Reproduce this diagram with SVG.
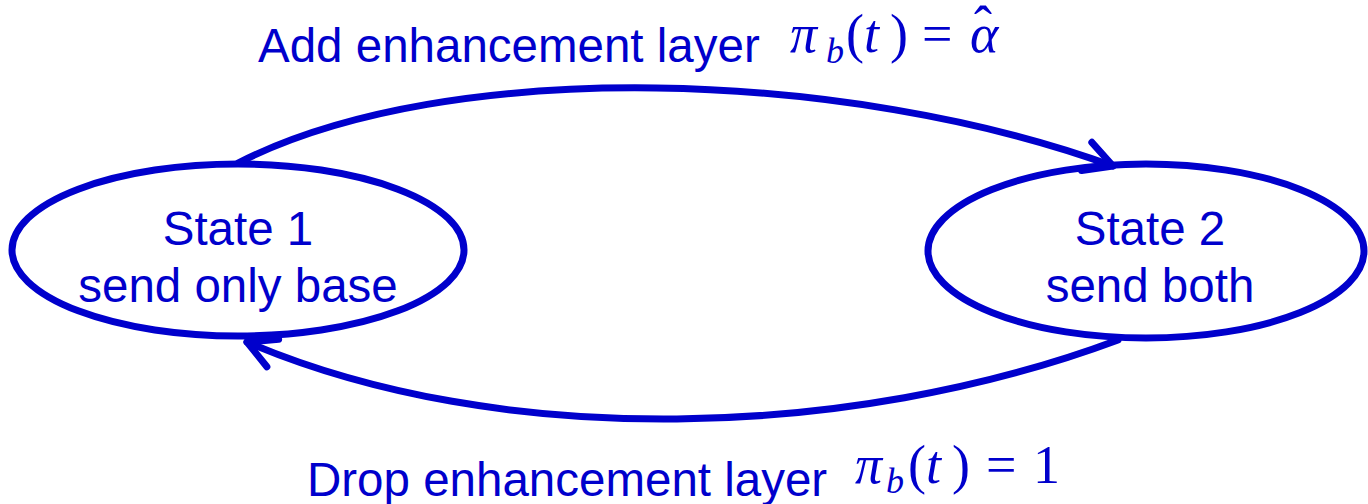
<svg xmlns="http://www.w3.org/2000/svg" width="1368" height="504" viewBox="0 0 1368 504">
<defs>
<style>
.node{fill:none;stroke:#0000CC;stroke-width:7}
.conn{fill:none;stroke:#0000CC;stroke-width:7;stroke-linecap:round}
.lbl{font-family:"Liberation Sans",Arial,sans-serif;font-size:47.5px;fill:#0000CC}
.math{font-family:"Liberation Serif","Times New Roman",serif;font-size:54px;fill:#0000CC}
.it{font-style:italic}
.sub{font-style:italic;font-size:36px}
</style>
<marker id="arr" markerUnits="userSpaceOnUse" markerWidth="60" markerHeight="60" refX="0" refY="0" viewBox="-40 -30 50 60" orient="auto" overflow="visible">
<path d="M-28,-15 L0,0 L-28,15" fill="none" stroke="#0000CC" stroke-width="7" stroke-linecap="round" stroke-linejoin="round"/>
</marker>
</defs>
<rect width="1368" height="504" fill="#FFFFFF"/>
<g id="connectors">
<path class="conn" d="M238,163 C450,55 850,70 1113,166" marker-end="url(#arr)"/>
<path class="conn" d="M1118,340 C850,440 500,450 247,342" marker-end="url(#arr)"/>
</g>
<g id="state1">
<ellipse class="node" cx="238" cy="250" rx="226" ry="86"/>
<text class="lbl" x="238" y="245" text-anchor="middle">State 1</text>
<text class="lbl" x="238" y="302" text-anchor="middle">send only base</text>
</g>
<g id="state2">
<ellipse class="node" cx="1146" cy="251" rx="218" ry="87"/>
<text class="lbl" x="1150" y="245" text-anchor="middle">State 2</text>
<text class="lbl" x="1150" y="302" text-anchor="middle">send both</text>
</g>
<g id="label-top">
<text class="lbl" x="258" y="62">Add enhancement layer</text>
<text class="math" y="52"><tspan class="it" x="790">π</tspan><tspan class="sub" x="826" y="63">b</tspan><tspan x="846" y="52">(</tspan><tspan class="it" x="864">t</tspan><tspan x="890">)</tspan><tspan x="922">=</tspan><tspan class="it" x="970">α</tspan><tspan x="974" y="44">ˆ</tspan></text>
</g>
<g id="label-bottom">
<text class="lbl" x="307" y="496">Drop enhancement layer</text>
<text class="math" y="483"><tspan class="it" x="855">π</tspan><tspan class="sub" x="886" y="493">b</tspan><tspan x="908" y="483">(</tspan><tspan class="it" x="926">t</tspan><tspan x="952">)</tspan><tspan x="986">=</tspan><tspan x="1033">1</tspan></text>
</g>
</svg>
